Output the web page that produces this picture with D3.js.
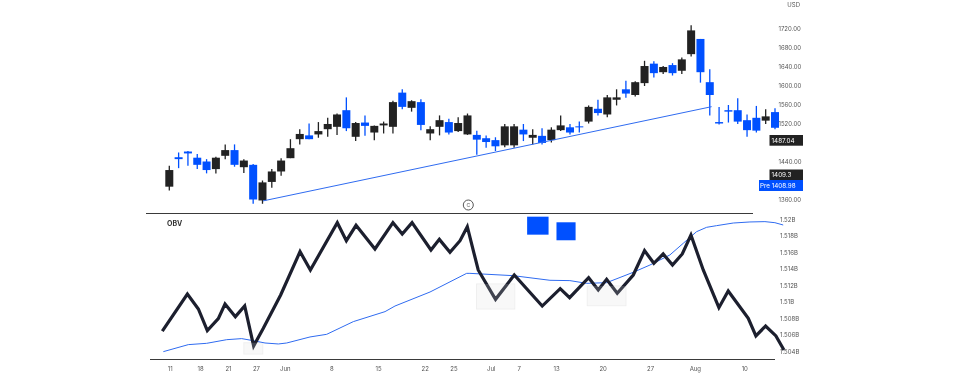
<!DOCTYPE html>
<html><head><meta charset="utf-8">
<script src="https://cdnjs.cloudflare.com/ajax/libs/d3/7.8.5/d3.min.js"></script>
<style>
html,body{margin:0;padding:0;background:#fff}
svg{display:block;filter:blur(0.3px)}
text{font-family:Inter,"Noto Sans",sans-serif}
</style></head><body>
<div id="chart"></div>
<script>
const opens=[1387,1449,1461,1448,1440,1424,1452,1464,1428,1433,1358,1397,1419,1447,1487,1495,1497,1508,1513,1548,1492,1522,1501,1516,1513,1585,1553,1565,1499,1513,1523,1504,1497,1496,1489,1485,1474,1474,1507,1490,1494,1485,1506,1512,1514,1524,1551,1539,1570,1592,1580,1605,1646,1628,1643,1631,1666,1698,1607,1523,1548,1548,1527,1532,1526,1544];
const highs=[1431,1459,1462,1456,1445,1450,1476,1476,1445,1435,1400,1424,1447,1487,1508,1520,1523,1532,1541,1575,1523,1537,1516,1524,1568,1592,1569,1571,1514,1537,1530,1533,1541,1505,1495,1491,1519,1519,1519,1508,1510,1512,1537,1519,1524,1558,1570,1580,1592,1610,1609,1652,1651,1641,1647,1659,1727,1698,1634,1555,1559,1573,1539,1557,1550,1552];
const lows=[1379,1426,1431,1424,1415,1415,1445,1429,1416,1351,1351,1385,1410,1447,1476,1487,1490,1492,1496,1504,1483,1494,1485,1499,1499,1550,1545,1506,1485,1495,1497,1502,1496,1454,1469,1462,1470,1469,1483,1476,1476,1480,1504,1497,1501,1520,1537,1533,1558,1574,1577,1599,1617,1624,1621,1624,1661,1606,1537,1518,1522,1519,1492,1501,1519,1508];
const closes=[1422,1445,1457,1433,1422,1448,1464,1433,1442,1360,1396,1419,1442,1468,1498,1487,1504,1519,1539,1510,1521,1515,1515,1520,1565,1555,1567,1517,1508,1527,1501,1521,1537,1486,1481,1472,1514,1514,1497,1496,1479,1507,1516,1501,1512,1555,1542,1575,1575,1583,1607,1641,1626,1639,1626,1655,1716,1628,1580,1520,1545,1524,1506,1505,1535,1511];

const obvDays=[-0.75,1.94,3.12,4.08,5.26,5.98,7.09,8.09,9.05,10.09,11.95,14.03,15.14,18.03,19,20.04,22.07,24,25,26.05,28.08,28.98,30.12,31.2,31.98,32.7,33.15,35.01,37.02,40.02,41.95,42.96,45,46.03,46.93,48.07,49.79,51,52,53,54,55.05,55.98,57.3,58.98,59.98,62.13,62.95,63.99,65.1,65.96];
const obvValues=[1.50647,1.51096,1.50914,1.50652,1.50797,1.50975,1.50821,1.5095,1.50466,1.5068,1.51084,1.51609,1.51387,1.5196,1.51742,1.51928,1.51641,1.5196,1.51823,1.5196,1.51629,1.51758,1.51601,1.51742,1.51912,1.51589,1.51387,1.51031,1.51326,1.5095,1.51161,1.51051,1.51294,1.51144,1.51274,1.51104,1.51326,1.51621,1.51468,1.51581,1.51447,1.51581,1.51811,1.51387,1.5093,1.51132,1.50801,1.50587,1.50708,1.50587,1.50417];
const maDays=[-0.64,2.04,4.01,6.16,7.77,9.02,10.27,11.7,12.6,15.1,16.89,19.75,23.15,24.22,27.98,31.91,32.26,36.91,40.85,42.99,44.78,46.93,49.79,51.58,53.72,55.15,56.58,57.66,58.73,60.52,62.31,63.92,64.99,65.88];
const maValues=[1.50397,1.50482,1.50498,1.50542,1.50555,1.5053,1.50502,1.5049,1.50502,1.50575,1.50607,1.50761,1.50882,1.5095,1.5112,1.51346,1.51346,1.51318,1.51262,1.51258,1.51225,1.51233,1.51359,1.51447,1.51569,1.5171,1.51851,1.51904,1.51924,1.51956,1.51969,1.51973,1.5196,1.51932];

const trendDays=[10.05,58.2];
const trendPrices=[1357,1555.4];

const priceTicks=[1720,1680,1640,1600,1560,1520,1440,1360];
const obvTicks=[1.52,1.518,1.516,1.514,1.512,1.51,1.508,1.506,1.504];
const obvTickLabels=["1.52B","1.518B","1.516B","1.514B","1.512B","1.51B","1.508B","1.506B","1.504B"];
const dayTicks=[0.05,3.3,6.3,9.3,12.4,17.4,22.4,27.4,30.5,34.5,37.5,41.5,46.5,51.6,56.4,61.7];
const dayTickLabels=["11","18","21","27","Jun","8","15","22","25","Jul","7","13","20","27","Aug","10"];

const boxDays=[[8.0,10.03],[32.97,37.07],[44.85,49.0]];
const boxValues=[[1.50505,1.50369],[1.51217,1.50914],[1.51193,1.50954]];
const squareDays=[[38.4,40.7],[41.55,43.6]];
const squareValues=[[1.52033,1.51815],[1.51965,1.51747]];

const W=960,H=378;
const BLACK="#222222",BLUE="#0050ff",AXIS="#555555",RULE="#3a3a3a";
const x=d3.scaleLinear().domain([0,65]).range([169.3,775]);
const yP=d3.scaleLinear().domain([1720,1360]).range([28.5,199.5]);
const yO=d3.scaleLinear().domain([1.52,1.504]).range([219.4,351.4]);
const svg=d3.select("#chart").append("svg").attr("width",W).attr("height",H);

const days=d3.range(opens.length);
const candle=svg.append("g").selectAll("g").data(days).join("g")
  .attr("fill",i=>closes[i]>=opens[i]?BLACK:BLUE)
  .attr("stroke",i=>closes[i]>=opens[i]?BLACK:BLUE);
candle.append("line").attr("x1",i=>x(i)).attr("x2",i=>x(i)).attr("y1",i=>yP(highs[i])).attr("y2",i=>yP(lows[i])).attr("stroke-width",1.3);
const bodyW=8;
candle.append("rect").attr("x",i=>x(i)-bodyW/2).attr("width",bodyW)
  .attr("y",i=>yP(Math.max(opens[i],closes[i])))
  .attr("height",i=>Math.max(1,yP(Math.min(opens[i],closes[i]))-yP(Math.max(opens[i],closes[i]))))
  .attr("stroke","none");

svg.append("line").attr("x1",x(trendDays[0])).attr("x2",x(trendDays[1])).attr("y1",yP(trendPrices[0])).attr("y2",yP(trendPrices[1])).attr("stroke","#2f6bf0").attr("stroke-width",1);

const boxes=d3.range(boxDays.length);
const boxGeom=s=>s.attr("x",i=>x(boxDays[i][0])).attr("width",i=>x(boxDays[i][1])-x(boxDays[i][0]))
  .attr("y",i=>yO(boxValues[i][0])).attr("height",i=>yO(boxValues[i][1])-yO(boxValues[i][0]));
svg.append("g").selectAll("rect").data(boxes).join("rect").call(boxGeom)
  .attr("fill","#f7f7f7").attr("stroke","#eeeeee").attr("stroke-width",1);

const lineOf=(xs)=>d3.line().x((d,i)=>x(xs[i])).y(d=>yO(d));
svg.append("path").attr("d",lineOf(maDays)(maValues)).attr("fill","none").attr("stroke","#2f6bf0").attr("stroke-width",1);
svg.append("path").attr("d",lineOf(obvDays)(obvValues)).attr("fill","none").attr("stroke","#1c1f2e").attr("stroke-width",3.2).attr("stroke-linejoin","miter");

svg.append("g").selectAll("rect").data(boxes).join("rect").call(boxGeom)
  .attr("fill","#ffffff").attr("fill-opacity",0.16);

svg.append("g").selectAll("rect").data(d3.range(squareDays.length)).join("rect")
  .attr("x",i=>x(squareDays[i][0])).attr("width",i=>x(squareDays[i][1])-x(squareDays[i][0]))
  .attr("y",i=>yO(squareValues[i][0])).attr("height",i=>yO(squareValues[i][1])-yO(squareValues[i][0]))
  .attr("fill",BLUE);

svg.append("line").attr("x1",146).attr("x2",753).attr("y1",213.5).attr("y2",213.5).attr("stroke",RULE);
svg.append("line").attr("x1",150).attr("x2",775).attr("y1",359.5).attr("y2",359.5).attr("stroke",RULE);

function styleAxis(g){g.select(".domain").remove();g.selectAll("line").remove();
  g.selectAll("text").attr("font-size",6).attr("fill",AXIS).attr("font-weight",400);}
svg.append("g").attr("transform","translate(778.5,0)")
  .call(d3.axisRight(yP).tickValues(priceTicks).tickSize(0).tickPadding(0).tickFormat(d3.format(".2f"))).call(styleAxis);
svg.append("g").attr("transform","translate(780,0)")
  .call(d3.axisRight(yO).tickValues(obvTicks).tickSize(0).tickPadding(0).tickFormat((d,i)=>obvTickLabels[i])).call(styleAxis);
svg.append("g").attr("transform","translate(0,367)")
  .call(d3.axisBottom(x).tickValues(dayTicks).tickSize(0).tickPadding(0).tickFormat((d,i)=>dayTickLabels[i])).call(styleAxis);

svg.append("text").attr("x",800).attr("y",7).attr("text-anchor","end").attr("font-size",6).attr("fill",AXIS).text("USD");
svg.append("text").attr("x",167).attr("y",225.5).attr("font-size",7).attr("font-weight",700).attr("fill","#333").text("OBV");

const tags=[{t:"1487.04",x:769.5,y:135,w:33.5,h:10.7,f:"#222222",tx:771.5},
            {t:"1409.3",x:769.5,y:169.5,w:33.5,h:10.7,f:"#222222",tx:771.5},
            {t:"Pre 1408.98",x:759,y:180,w:44,h:11,f:BLUE,tx:760}];
const tg=svg.append("g").selectAll("g").data(tags).join("g");
tg.append("rect").attr("x",d=>d.x).attr("y",d=>d.y).attr("width",d=>d.w).attr("height",d=>d.h).attr("fill",d=>d.f);
tg.append("text").attr("x",d=>d.tx).attr("y",d=>d.y+d.h/2).attr("dy","0.35em").attr("font-size",6.3).attr("fill","#fff").text(d=>d.t);

const mark=svg.append("g").attr("transform","translate(468.3,205)");
mark.append("circle").attr("r",5).attr("fill","#fff").attr("stroke","#444").attr("stroke-width",0.9);
mark.append("text").attr("text-anchor","middle").attr("dy","0.35em").attr("font-size",5).attr("fill","#555").text("C");
</script>
</body></html>
